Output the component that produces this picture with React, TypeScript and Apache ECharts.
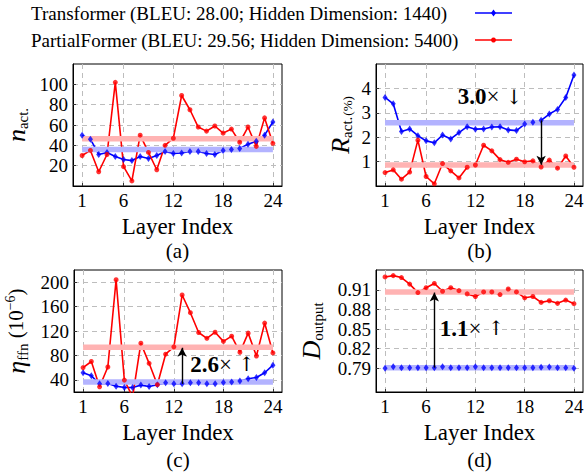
import React, { useEffect, useRef } from "react";
import * as echarts from "echarts";

// ---------- data ----------
const layers = [1, 2, 3, 4, 5, 6, 7, 8, 9, 10, 11, 12, 13, 14, 15, 16, 17, 18, 19, 20, 21, 22, 23, 24];
const xTicks = [1, 6, 12, 18, 24];

const legendNames = [
  "Transformer (BLEU: 28.00; Hidden Dimension: 1440)",
  "PartialFormer (BLEU: 29.56; Hidden Dimension: 5400)",
];

// (a) n_act.
const nActTransformer = [50, 46, 31, 33, 29, 26, 25, 29, 27, 30, 34, 32, 32.5, 34, 34, 32, 31, 35, 36, 37, 41, 44, 50, 63];
const nActPartial = [30, 35, 14, 31, 102, 19, 5, 50, 33, 16, 40, 47, 89, 75, 58, 54, 59, 52, 56, 43, 58, 39, 67, 42];
const nActMeans = [35.9, 46.4];
const nActTicks = [20, 40, 60, 80, 100];

// (b) R_act. (%)
const rActTransformer = [3.63, 3.37, 2.23, 2.34, 2.06, 1.85, 1.77, 2.09, 1.93, 2.19, 2.43, 2.33, 2.34, 2.42, 2.43, 2.3, 2.27, 2.54, 2.61, 2.69, 2.95, 3.14, 3.63, 4.55];
const rActPartial = [0.55, 0.66, 0.28, 0.57, 1.88, 0.39, 0.09, 0.92, 0.62, 0.33, 0.77, 0.86, 1.67, 1.44, 1.08, 0.97, 1.1, 0.99, 1.03, 0.78, 1.06, 0.73, 1.23, 0.77];
const rActMeans = [2.59, 0.865];
const rActTicks = [1, 2, 3, 4];

// (c) eta_ffn (1e-6)
const etaTransformer = [51.5, 46.5, 33.4, 34, 29.6, 27.4, 27.4, 31.3, 29, 31.8, 35, 33.4, 33.4, 35, 35, 33.4, 33.4, 35.6, 36.2, 37.9, 41.6, 43.8, 51.5, 64];
const etaPartial = [60, 70, 28.5, 61, 204, 39.5, 12, 100, 67, 32, 82, 94, 179, 150, 117.5, 108, 118, 103, 111.5, 85, 116.5, 79, 133, 84];
const etaMeans = [36.2, 93.3];
const etaTicks = [40, 80, 120, 160, 200];

// (d) D_output
const dOutTransformer = [0.79, 0.7925, 0.791, 0.791, 0.791, 0.791, 0.791, 0.7925, 0.791, 0.791, 0.791, 0.7925, 0.791, 0.791, 0.791, 0.791, 0.791, 0.791, 0.791, 0.7915, 0.792, 0.791, 0.791, 0.79];
const dOutPartial = [0.93, 0.932, 0.929, 0.919, 0.906, 0.9135, 0.92, 0.908, 0.9135, 0.909, 0.904, 0.9, 0.907, 0.907, 0.903, 0.9115, 0.907, 0.898, 0.9, 0.891, 0.8935, 0.8895, 0.8945, 0.889];
const dOutMeans = [0.791, 0.907];
const dOutTicks = [0.79, 0.82, 0.85, 0.88, 0.91];

// annotations: arrow [x, from, to], note [x, y, bold, symbol, arrow]
const arrowB = [20, 2.69, 0.87];
const arrowC = [13, 33.4, 92.5];
const arrowD = [7, 0.791, 0.906];
const noteB = [13.8, 3.65, "3.0", "×", "↓"];
const noteC = [17.9, 65.7, "2.6", "×", "↑"];
const noteD = [11.6, 0.851, "1.1", "×", "↑"];
const captions = ["(a)", "(b)", "(c)", "(d)"];

// ---------- styling ----------
const FONT = '"Liberation Serif", "Times New Roman", serif';
const ARROW_FONT = "DejaVu Serif";
const BLUE = "#0000ff";
const RED = "#ff0000";
const BLUE_BAND = "#b3b3ff";
const RED_BAND = "#ffb3b3";

const grids = [
  { left: 73, top: 64, width: 209, height: 122 },
  { left: 376, top: 64, width: 207, height: 122 },
  { left: 74, top: 270, width: 208, height: 122 },
  { left: 376, top: 270, width: 207, height: 122 },
];
const captionY = [251, 251, 460, 460];

const nameRich = {
  i: { fontFamily: FONT, fontStyle: "italic", fontSize: 26, color: "#000", lineHeight: 28 },
  s: { fontFamily: FONT, fontSize: 15, color: "#000", verticalAlign: "bottom", lineHeight: 28, padding: [10, 0, 0, 0] },
  m: { fontFamily: FONT, fontSize: 13, color: "#000", verticalAlign: "bottom", lineHeight: 28, padding: [8, 0, 0, 1] },
  n: { fontFamily: FONT, fontSize: 21, color: "#000", lineHeight: 28 },
  u: { fontFamily: FONT, fontSize: 14, color: "#000", lineHeight: 28, padding: [0, 0, 12, 0] },
};
const titleRich = { t: { fontFamily: FONT, fontSize: 23, color: "#000" } };

const panels = [
  { t: nActTransformer, p: nActPartial, means: nActMeans, ticks: nActTicks, min: 0, max: 120, fmt: (v: number) => String(v), name: "{i|n}{s|act.}", gap: 43, arrow: null as any, note: null as any },
  { t: rActTransformer, p: rActPartial, means: rActMeans, ticks: rActTicks, min: 0, max: 5, fmt: (v: number) => String(v), name: "{i|R}{s|act.}{m|(%)}", gap: 22, arrow: arrowB, note: noteB },
  { t: etaTransformer, p: etaPartial, means: etaMeans, ticks: etaTicks, min: 20, max: 220, fmt: (v: number) => String(v), name: "{i|η}{s|ffn}{n| (10}{u|−6}{n|)}", gap: 44, arrow: arrowC, note: noteC },
  { t: dOutTransformer, p: dOutPartial, means: dOutMeans, ticks: dOutTicks, min: 0.7537, max: 0.9406, fmt: (v: number) => v.toFixed(2), name: "{i|D}{s|output}", gap: 51, arrow: arrowD, note: noteD },
];

function buildOption() {
  const gridLine = { show: true, lineStyle: { color: "#bdbdbd", width: 1, type: [5, 4] as any } };
  const labelText = { fontFamily: FONT, fontSize: 19, color: "#000" };
  const xAxis = grids.map((_, i) => ({
    type: "value",
    gridIndex: i,
    min: -0.1,
    max: 25.1,
    axisLine: { show: true, onZero: false, lineStyle: { color: "#000", width: 1 } },
    axisTick: { show: true, inside: true, length: 3, customValues: xTicks, lineStyle: { color: "#333" } },
    axisLabel: { customValues: xTicks, ...labelText, margin: 5, showMinLabel: true, showMaxLabel: true },
    splitLine: gridLine,
    name: "{t|Layer Index}",
    nameLocation: "middle",
    nameGap: 29,
    nameTextStyle: { rich: titleRich },
  }));
  const yAxis = panels.map((p, i) => ({
    type: "value",
    gridIndex: i,
    min: p.min,
    max: p.max,
    axisLine: { show: true, onZero: false, lineStyle: { color: "#000", width: 1 } },
    axisTick: { show: true, inside: true, length: 3, customValues: p.ticks, lineStyle: { color: "#333" } },
    axisLabel: { customValues: p.ticks, formatter: p.fmt, ...labelText, margin: 5, showMinLabel: true, showMaxLabel: true },
    splitLine: gridLine,
    name: p.name,
    nameLocation: "middle",
    nameGap: p.gap,
    nameTextStyle: { rich: nameRich },
  }));
  const series: any[] = [];
  panels.forEach((p, i) => {
    const tData = layers.map((x, k) => [x, p.t[k]]);
    const pData = layers.map((x, k) => [x, p.p[k]]);
    const common = { xAxisIndex: i, yAxisIndex: i, animation: false, silent: true };
    series.push({ ...common, type: "line", name: legendNames[0], data: tData, showSymbol: false, symbol: "none", lineStyle: { color: BLUE, width: 1.6 }, itemStyle: { color: BLUE }, z: 2 });
    series.push({ ...common, type: "line", name: legendNames[1], data: pData, showSymbol: false, symbol: "none", lineStyle: { color: RED, width: 1.6 }, itemStyle: { color: RED }, z: 2 });
    const bandT: any = { ...common, type: "line", data: [[layers[0], p.means[0]], [layers[23], p.means[0]]], symbol: "none", lineStyle: { color: BLUE_BAND, width: 5.5, cap: "butt" }, z: 3 };
    if (p.arrow) {
      bandT.markLine = {
        silent: true,
        animation: false,
        symbol: ["none", "arrow"],
        symbolSize: [7, 9],
        label: { show: false },
        lineStyle: { color: "#000", width: 1.4, type: "solid" },
        data: [[{ coord: [p.arrow[0], p.arrow[1]] }, { coord: [p.arrow[0], p.arrow[2]] }]],
      };
    }
    series.push(bandT);
    series.push({ ...common, type: "line", data: [[layers[0], p.means[1]], [layers[23], p.means[1]]], symbol: "none", lineStyle: { color: RED_BAND, width: 5.5, cap: "butt" }, z: 3 });
    series.push({ ...common, type: "scatter", data: tData, symbol: "diamond", symbolSize: [5, 7], itemStyle: { color: BLUE }, z: 4 });
    series.push({ ...common, type: "scatter", data: pData, symbol: "circle", symbolSize: 5, itemStyle: { color: RED }, z: 4 });
  });
  return {
    animation: false,
    backgroundColor: "#fff",
    grid: grids.map((g) => ({ ...g, show: true, borderColor: "#000", borderWidth: 1, backgroundColor: "transparent" })),
    xAxis,
    yAxis,
    series,
  };
}

export default function App() {
  const ref = useRef<HTMLDivElement>(null);
  useEffect(() => {
    const chart = echarts.init(ref.current!, null, { renderer: "svg" });
    chart.setOption(buildOption() as any);
    const g: any[] = [];
    // legend
    const legendY = [13, 40];
    const colors = [BLUE, RED];
    legendNames.forEach((name, k) => {
      g.push({ type: "text", x: 31, y: legendY[k], style: { text: name, font: `19px ${FONT}`, fill: "#000", align: "left", verticalAlign: "middle" } });
      g.push({ type: "line", shape: { x1: 475, y1: legendY[k], x2: 512, y2: legendY[k] }, style: { stroke: colors[k], lineWidth: 1.6 } });
      if (k === 0) {
        g.push({ type: "polygon", shape: { points: [[493.5, legendY[k] - 3.5], [496, legendY[k]], [493.5, legendY[k] + 3.5], [491, legendY[k]]] }, style: { fill: BLUE } });
      } else {
        g.push({ type: "circle", shape: { cx: 493.5, cy: legendY[k], r: 2.5 }, style: { fill: RED } });
      }
    });
    // captions
    grids.forEach((gr, i) => {
      g.push({ type: "text", x: gr.left + gr.width / 2, y: captionY[i], style: { text: captions[i], font: `21px ${FONT}`, fill: "#000", align: "center", verticalAlign: "middle" } });
    });
    // notes
    panels.forEach((p, i) => {
      if (!p.note) return;
      const pt = chart.convertToPixel({ gridIndex: i } as any, [p.note[0], p.note[1]]) as number[];
      g.push({
        type: "text",
        x: pt[0],
        y: pt[1],
        z: 10,
        style: {
          text: `{b|${p.note[2]}}{r|${p.note[3]}}{a| ${p.note[4]}}`,
          align: "center",
          verticalAlign: "middle",
          rich: {
            b: { fontFamily: FONT, fontWeight: "bold", fontSize: 23, fill: "#000" },
            r: { fontFamily: FONT, fontSize: 23, fill: "#000" },
            a: { fontFamily: ARROW_FONT, fontSize: 20, fill: "#000" },
          },
        },
      });
    });
    chart.setOption({ graphic: g });
    return () => chart.dispose();
  }, []);
  return <div ref={ref} style={{ position: "fixed", left: 0, top: 0, width: 587, height: 472, background: "#fff" }} />;
}
